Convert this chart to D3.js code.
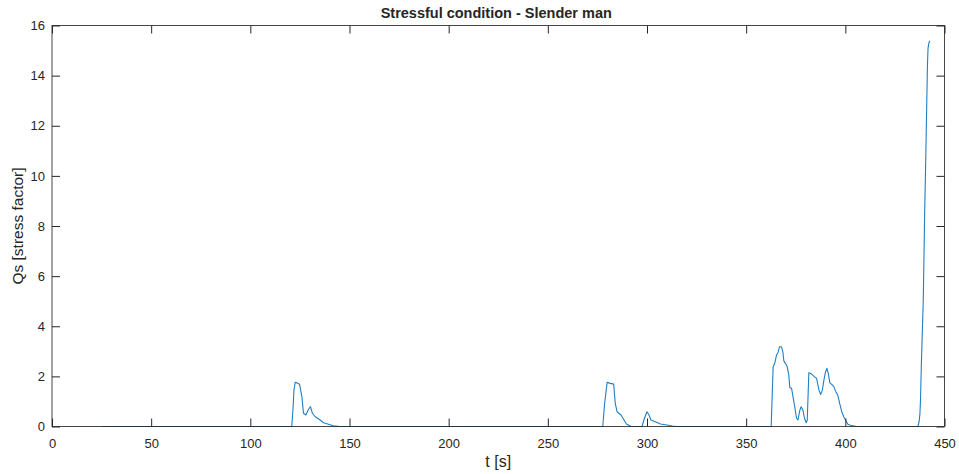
<!DOCTYPE html>
<html>
<head>
<meta charset="utf-8">
<script src="https://cdn.jsdelivr.net/npm/d3@7"></script>
<style>
  html, body { margin: 0; padding: 0; background: #fff; }
  svg { display: block; }
  text { font-family: "Liberation Sans", Arial, Helvetica, sans-serif; fill: #262626; }
</style>
</head>
<body>
<svg id="chart" width="959" height="474"></svg>
<script>
// ---- data ----
const titleText = "Stressful condition - Slender man";
const xLabelText = "t [s]";
const yLabelText = "Qs [stress factor]";
const xTicks = [0, 50, 100, 150, 200, 250, 300, 350, 400, 450];
const yTicks = [0, 2, 4, 6, 8, 10, 12, 14, 16];

const timeS = [
  25, 120.9, 121.5, 122.0, 122.6, 123.6, 124.8, 126.0, 126.8, 128.0, 129.3, 130.3, 131.3, 132.7,
  135.2, 136.9, 139.4, 141.9, 145.0,
  277.7, 278.6, 279.9, 281.5, 283.2, 284.0, 284.9, 286.9, 288.2, 289.6, 290.8, 292.0,
  297.5, 298.7, 300.0, 301.0, 302.0, 304.2, 306.8, 310.1, 312.7, 315.0,
  362.6, 363.6, 364.4, 365.3, 366.0, 366.8, 367.8, 368.5, 369.0, 369.8, 370.7, 371.5, 372.0,
  372.9, 373.6, 374.6, 375.4, 376.1, 377.1, 377.7, 378.6, 379.4, 380.3, 380.8, 381.6, 383.0,
  384.5, 385.5, 386.7, 387.6, 388.4, 389.2, 390.0, 390.7, 391.4, 392.2, 393.0, 394.2, 395.2,
  396.2, 397.2, 398.2, 399.2, 400.1, 401.3, 402.6, 405.1, 407.0,
  436.6, 437.2, 437.6, 437.9, 438.3, 438.8, 439.3, 440.0, 440.6, 441.1, 441.4, 441.7, 442.1, 442.6
];
const stressQs = [
  0, 0, 0.7, 1.45, 1.76, 1.74, 1.69, 1.19, 0.53, 0.46, 0.68, 0.79, 0.53, 0.39,
  0.26, 0.15, 0.09, 0.03, 0,
  0, 0.9, 1.76, 1.72, 1.69, 0.92, 0.59, 0.46, 0.29, 0.10, 0.05, 0,
  0, 0.33, 0.59, 0.46, 0.26, 0.19, 0.10, 0.06, 0.02, 0,
  0, 2.38, 2.52, 2.85, 2.94, 3.18, 3.18, 2.98, 2.62, 2.52, 2.38, 2.05, 1.56,
  1.52, 1.19, 0.73, 0.33, 0.26, 0.66, 0.79, 0.66, 0.33, 0.15, 0.26, 2.14, 2.09,
  1.98, 1.92, 1.45, 1.28, 1.45, 1.85, 2.18, 2.32, 2.12, 1.74, 1.69, 1.59, 1.39,
  1.25, 0.90, 0.59, 0.39, 0.26, 0.09, 0.05, 0.01, 0,
  0, 0.2, 0.5, 1.06, 2.38, 3.72, 5.04, 8.5, 10.9, 13.1, 14.4, 15.1, 15.3, 15.39
];

// ---- layout ----
const svg = d3.select("#chart");
const L = 52, R = 944.5, T = 25.5, B = 426.5;

const x = d3.scaleLinear().domain([0, 450]).range([L, R]);
const y = d3.scaleLinear().domain([0, 16]).range([B, T]);

const pts = timeS.map((t, i) => [t, stressQs[i]]);

// data line
svg.append("path")
  .datum(pts)
  .attr("fill", "none")
  .attr("stroke", "#1f7fc4")
  .attr("stroke-width", 1.1)
  .attr("stroke-linejoin", "round")
  .attr("d", d3.line().x(d => x(d[0])).y(d => y(d[1])));

const axisColor = "#262626";
const tickLen = 8;

// bottom axis (ticks inward)
const gx = svg.append("g").attr("transform", `translate(0,${B})`)
  .call(d3.axisBottom(x).tickValues(xTicks).tickSizeInner(-tickLen).tickSizeOuter(0).tickPadding(17));
// left axis
const gy = svg.append("g").attr("transform", `translate(${L},0)`)
  .call(d3.axisLeft(y).tickValues(yTicks).tickSizeInner(-tickLen).tickSizeOuter(0).tickPadding(7));
// top axis (ticks only)
const gt = svg.append("g").attr("transform", `translate(0,${T})`)
  .call(d3.axisTop(x).tickValues(xTicks).tickSizeInner(-tickLen).tickSizeOuter(0).tickFormat(""));
// right axis (ticks only)
const gr = svg.append("g").attr("transform", `translate(${R},0)`)
  .call(d3.axisRight(y).tickValues(yTicks).tickSizeInner(-tickLen).tickSizeOuter(0).tickFormat(""));

[gx, gy, gt, gr].forEach(g => {
  g.select(".domain").remove();
  g.selectAll(".tick line").attr("stroke", axisColor).attr("stroke-width", 1);
  g.selectAll(".tick text").style("font-size", "13px").attr("fill", axisColor)
    .style("font-family", '"Liberation Sans", Arial, sans-serif');
});
gx.selectAll(".tick text").attr("dy", "0.35em");

// box
svg.append("rect")
  .attr("x", L).attr("y", T).attr("width", R - L).attr("height", B - T)
  .attr("fill", "none").attr("stroke", axisColor).attr("stroke-width", 1).attr("opacity", 0.85);

// title
svg.append("text")
  .attr("x", (L + R) / 2 - 2).attr("y", 18)
  .attr("text-anchor", "middle")
  .style("font-size", "14.5px").style("font-weight", "bold")
  .attr("fill", "#000")
  .text(titleText);

// x label
svg.append("text")
  .attr("x", (L + R) / 2).attr("y", 467)
  .attr("text-anchor", "middle")
  .style("font-size", "16px")
  .text(xLabelText);

// y label
svg.append("text")
  .attr("transform", `translate(23,${(T + B) / 2}) rotate(-90)`)
  .attr("text-anchor", "middle")
  .style("font-size", "15.5px")
  .text(yLabelText);
</script>
</body>
</html>
